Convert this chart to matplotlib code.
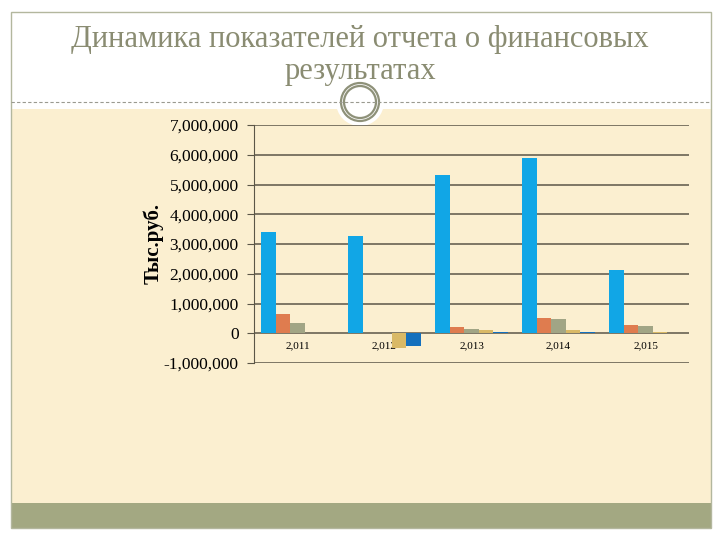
import matplotlib.pyplot as plt
import matplotlib.patches as mpatches
import numpy as np

years = ['2,011', '2,012', '2,013', '2,014', '2,015']
s1 = [3400000, 3270000, 5320000, 5890000, 2120000]
s2 = [640000, 20000, 200000, 520000, 280000]
s3 = [330000, 10000, 140000, 470000, 240000]
s4 = [20000, -500000, 120000, 100000, 40000]
s5 = [5000, -430000, 40000, 30000, 10000]
series = [s1, s2, s3, s4, s5]
colors = ['#11a6e6', '#df7c4f', '#a1a585', '#d9b966', '#1470bd']

yticks = [-1000000, 0, 1000000, 2000000, 3000000, 4000000, 5000000, 6000000, 7000000]

W, H = 720, 540
fig = plt.figure(figsize=(7.2, 5.4), dpi=100)
fig.patch.set_facecolor('white')

# slide background
bg = fig.add_axes([0, 0, 1, 1])
bg.set_xlim(0, W)
bg.set_ylim(H, 0)
bg.axis('off')
bg.add_patch(mpatches.Rectangle((11, 109), 700, 395, facecolor='#fbefd0', edgecolor='none'))
bg.add_patch(mpatches.Rectangle((11, 503), 700, 25, facecolor='#a3a882', edgecolor='none'))
bg.add_patch(mpatches.Rectangle((11, 12), 700, 516, facecolor='none', edgecolor='#b3b79e', lw=1))
bg.plot([11, 711], [102, 102], color='#9a9a90', lw=0.8, ls=(0, (3, 2)))
bg.add_patch(mpatches.Circle((360, 102), 24, facecolor='white', edgecolor='none'))
bg.add_patch(mpatches.Circle((360, 102), 19, facecolor='white', edgecolor='#8e9179', lw=1.6))
bg.add_patch(mpatches.Circle((360, 102), 16, facecolor='none', edgecolor='#8e9179', lw=1.6))
bg.text(360, 39, 'Динамика показателей отчета о финансовых', ha='center', va='center',
        fontsize=22, family='Liberation Serif', color='#8a8c72')
bg.text(360, 71, 'результатах', ha='center', va='center',
        fontsize=22, family='Liberation Serif', color='#8a8c72')

ax = fig.add_axes([254 / W, 1 - 363 / H, 435 / W, 238 / H])
ax.set_facecolor('none')
x = np.arange(len(years))
bw = 0.168
for i, (vals, c) in enumerate(zip(series, colors)):
    ax.bar(x + (i - 2) * bw, vals, bw, color=c, zorder=3)

ax.set_xlim(-0.5, len(years) - 0.5)
ax.set_ylim(-1000000, 7000000)
ax.set_yticks(yticks)
ax.set_yticklabels(['{:,}'.format(v) for v in yticks], family='Liberation Serif', fontsize=12.5)
ax.tick_params(axis='y', length=5, color='#5b5647', pad=6)
ax.set_xticks([])
for v in yticks:
    ax.axhline(v, color='#5b5647', lw=1.1, zorder=1)
for s in ['top', 'right', 'bottom']:
    ax.spines[s].set_visible(False)
ax.spines['left'].set_color('#5b5647')

for xi, lab in zip(x, years):
    ax.text(xi, -420000, lab, ha='center', va='center', fontsize=8,
            family='Liberation Serif', zorder=2)

ax.set_ylabel('Тыс.руб.', family='Liberation Serif', fontsize=15, fontweight='bold', labelpad=0)

fig.savefig('out.png', dpi=100)
